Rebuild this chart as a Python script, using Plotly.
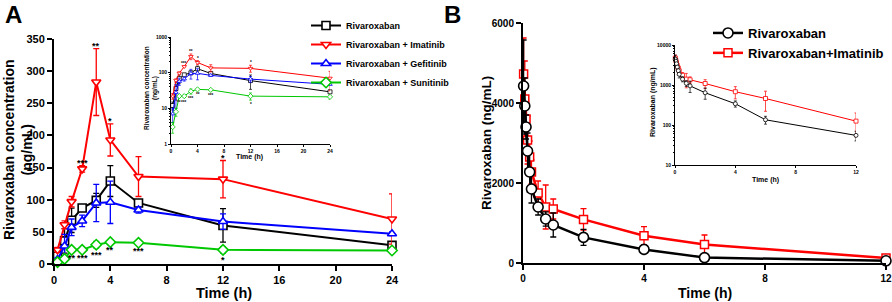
import math
import plotly.graph_objects as go

W, H = 892, 302
FONT = "Liberation Sans, Arial, sans-serif"


def px(x):
    return x / W


def py(y):
    return 1 - y / H


# ---------------- Panel A data ----------------
a_time = [0.25, 0.75, 1.25, 2, 3, 4, 6, 12, 24]
a_riva = [12, 36, 68, 87, 99, 129, 95, 60, 29]
a_riva_sd = [3, 19, 19, 4, 11, 24, 5, 26, 3]
a_imat = [22, 61, 97, 148, 283, 193, 136, 132, 70]
a_imat_sd = [4, 6, 8, 5, 52, 25, 31, 29, 39]
a_gefi = [7, 28, 57, 67, 95, 96, 84, 66, 47]
a_gefi_sd = [3, 18, 13, 9, 29, 33, 5, 12, 3]
a_suni = [3, 8, 22, 22, 30, 34, 33, 22, 21]
a_suni_sd = [1, 2, 2, 2, 5, 2, 2, 5, 3]

a_names = ["Rivaroxaban", "Rivaroxaban + Imatinib", "Rivaroxaban + Gefitinib", "Rivaroxaban + Sunitinib"]
a_colors = ["#000000", "#ff0000", "#0000ff", "#00c800"]
a_symbols = ["square", "triangle-down", "triangle-up", "diamond"]

imat_star_time = [2, 3, 4, 12]
imat_star_text = ["***", "**", "*", "*"]
suni_star_time = [1.25, 2, 3, 4, 6, 12]
suni_star_text = ["**", "***", "***", "**", "***", "*"]

a_xticks = [0, 4, 8, 12, 16, 20, 24]
a_yticks = [0, 50, 100, 150, 200, 250, 300, 350]
a_inset_yticks = [1, 10, 100, 1000]
a_inset_ylabels = ["1", "10", "100", "1000"]

# ---------------- Panel B data ----------------
b_time = [0.02, 0.06, 0.1, 0.15, 0.22, 0.28, 0.5, 0.75, 1, 2, 4, 6, 12]
b_riva = [4425, 3925, 3400, 2800, 2275, 1850, 1400, 1100, 950, 640, 340, 135, 55]
b_riva_sd = [1150, 700, 300, 450, 500, 350, 200, 180, 300, 200, 60, 30, 15]
b_imat = [4725, 4100, 3600, 3075, 2650, 2275, 1750, 1400, 1350, 1090, 680, 460, 125]
b_imat_sd = [900, 950, 500, 600, 400, 300, 300, 550, 250, 270, 230, 240, 75]
b_names = ["Rivaroxaban", "Rivaroxaban+Imatinib"]
b_xticks = [0, 4, 8, 12]
b_yticks = [0, 2000, 4000, 6000]
b_inset_yticks = [10, 100, 1000, 10000]
b_inset_ylabels = ["10", "100", "1000", "10000"]

a_series = [(a_riva, a_riva_sd), (a_imat, a_imat_sd), (a_gefi, a_gefi_sd), (a_suni, a_suni_sd)]

fig = go.Figure()

# Panel A main + inset
for i, (vals, sd) in enumerate(a_series):
    c = a_colors[i]
    fig.add_trace(go.Scatter(
        x=a_time, y=vals, mode="lines+markers", name=a_names[i],
        line=dict(color=c, width=2),
        marker=dict(symbol=a_symbols[i], size=8, color="white", line=dict(width=1.6, color=c)),
        error_y=dict(type="data", array=sd, color=c, thickness=1.3, width=3),
        xaxis="x", yaxis="y", legend="legend", cliponaxis=False,
        legendrank=i + 1,
    ))
    fig.add_trace(go.Scatter(
        x=a_time, y=vals, mode="lines+markers", showlegend=False,
        line=dict(color=c, width=1),
        marker=dict(symbol=a_symbols[i], size=4, color="white", line=dict(width=0.8, color=c)),
        error_y=dict(type="data", array=sd, color=c, thickness=0.7, width=1.5),
        xaxis="x2", yaxis="y2", cliponaxis=False,
    ))

# Panel B main + inset (Imatinib first so black is drawn on top)
fig.add_trace(go.Scatter(
    x=b_time, y=b_imat, mode="lines+markers", name=b_names[1],
    line=dict(color="#ff0000", width=2.5),
    marker=dict(symbol="square", size=8, color="white", line=dict(width=1.5, color="#ff0000")),
    error_y=dict(type="data", array=b_imat_sd, color="#ff0000", thickness=1.3, width=3),
    xaxis="x3", yaxis="y3", legend="legend2", cliponaxis=False, legendrank=2,
))
fig.add_trace(go.Scatter(
    x=b_time, y=b_riva, mode="lines+markers", name=b_names[0],
    line=dict(color="#000000", width=2.5),
    marker=dict(symbol="circle", size=10, color="white", line=dict(width=1.6, color="#000000")),
    error_y=dict(type="data", array=b_riva_sd, color="#000000", thickness=1.3, width=3),
    xaxis="x3", yaxis="y3", legend="legend2", cliponaxis=False, legendrank=1,
))
fig.add_trace(go.Scatter(
    x=b_time, y=b_imat, mode="lines+markers", showlegend=False,
    line=dict(color="#ff0000", width=1),
    marker=dict(symbol="square", size=4, color="white", line=dict(width=0.8, color="#ff0000")),
    error_y=dict(type="data", array=b_imat_sd, color="#ff0000", thickness=0.7, width=1.5),
    xaxis="x4", yaxis="y4", cliponaxis=False,
))
fig.add_trace(go.Scatter(
    x=b_time, y=b_riva, mode="lines+markers", showlegend=False,
    line=dict(color="#000000", width=1),
    marker=dict(symbol="circle", size=4, color="white", line=dict(width=0.8, color="#000000")),
    error_y=dict(type="data", array=b_riva_sd, color="#000000", thickness=0.7, width=1.5),
    xaxis="x4", yaxis="y4", cliponaxis=False,
))


def main_axis(**kw):
    d = dict(showline=True, linewidth=2, linecolor="black", ticks="outside", ticklen=5,
             tickwidth=2, tickcolor="black", showgrid=False, zeroline=False, automargin=False,
             tickfont=dict(size=11, family=FONT, weight="bold", color="black"))
    d.update(kw)
    return d


def inset_axis(**kw):
    d = dict(showline=True, linewidth=1, linecolor="black", ticks="outside", ticklen=2,
             tickwidth=1, tickcolor="black", showgrid=False, zeroline=False, automargin=False,
             tickfont=dict(size=5, family=FONT, weight="bold", color="black"))
    d.update(kw)
    return d


fig.update_layout(
    width=W, height=H, margin=dict(l=0, r=0, t=0, b=0, autoexpand=False),
    paper_bgcolor="white", plot_bgcolor="rgba(0,0,0,0)",
    font=dict(family=FONT, color="black"),
    xaxis=main_axis(domain=[px(54), px(392)], range=[0, 24], tickvals=a_xticks, anchor="y"),
    yaxis=main_axis(domain=[py(264), py(39)], range=[0, 350], tickvals=a_yticks, anchor="x"),
    xaxis2=inset_axis(domain=[px(171), px(330)], range=[0, 24], tickvals=a_xticks, anchor="y2"),
    yaxis2=inset_axis(domain=[py(144), py(37)], type="log", range=[0, 3], tickvals=a_inset_yticks,
                      ticktext=a_inset_ylabels, anchor="x2",
                      minor=dict(ticks="outside", ticklen=1.5, tickcolor="black", dtick="D1")),
    xaxis3=main_axis(domain=[px(523), px(886)], range=[0, 12], tickvals=b_xticks, anchor="y3",
                     tickfont=dict(size=10, family=FONT, weight="bold", color="black")),
    yaxis3=main_axis(domain=[py(263), py(23)], range=[0, 6000], tickvals=b_yticks, anchor="x3",
                     tickfont=dict(size=10, family=FONT, weight="bold", color="black")),
    xaxis4=inset_axis(domain=[px(675), px(856)], range=[0, 12], tickvals=b_xticks, anchor="y4"),
    yaxis4=inset_axis(domain=[py(165), py(45)], type="log", range=[1, 4], tickvals=b_inset_yticks,
                      ticktext=b_inset_ylabels, anchor="x4",
                      minor=dict(ticks="outside", ticklen=1.5, tickcolor="black", dtick="D1")),
    legend=dict(x=px(306), y=py(11), xanchor="left", yanchor="top", bgcolor="rgba(0,0,0,0)",
                font=dict(size=9, family=FONT, weight="bold", color="black")),
    legend2=dict(x=px(708), y=py(18), xanchor="left", yanchor="top", bgcolor="rgba(0,0,0,0)",
                 font=dict(size=13, family=FONT, weight="bold", color="black")),
)

ann = []


def text_ann(txt, x, y, size, angle=0):
    ann.append(dict(text=txt, x=px(x), y=py(y), xref="paper", yref="paper", showarrow=False,
                    xanchor="center", yanchor="middle", textangle=angle,
                    font=dict(size=size, family=FONT, weight="bold", color="black")))


text_ann("A", 13, 14, 24)
text_ann("B", 452, 14, 24)
text_ann("Rivaroxaban concentration<br>(ng/mL)", 18, 150, 14, -90)
text_ann("Time (h)", 224, 293, 14.5)
text_ann("Rivaroxaban concentration<br>(ng/mL)", 151, 88, 6.5, -90)
text_ann("Time (h)", 250, 157, 7)
text_ann("Rivaroxaban (ng/mL)", 486, 143, 13.5, -90)
text_ann("Time (h)", 705, 293, 14)
text_ann("Rivaroxaban (ng/mL)", 653, 102, 7, -90)
text_ann("Time (h)", 765, 180, 7)

# significance stars
for t, s in zip(imat_star_time, imat_star_text):
    i = a_time.index(t)
    ann.append(dict(text=s, x=t, y=a_imat[i] + a_imat_sd[i], xref="x", yref="y", showarrow=False,
                    xanchor="center", yanchor="bottom", yshift=-4,
                    font=dict(size=9, family=FONT, weight="bold", color="black")))
    ann.append(dict(text=s, x=t, y=math.log10(a_imat[i] + a_imat_sd[i]), xref="x2", yref="y2",
                    showarrow=False, xanchor="center", yanchor="bottom", yshift=-2,
                    font=dict(size=4.5, family=FONT, weight="bold", color="black")))
for t, s in zip(suni_star_time, suni_star_text):
    i = a_time.index(t)
    ann.append(dict(text=s, x=t, y=a_suni[i] - a_suni_sd[i], xref="x", yref="y", showarrow=False,
                    xanchor="center", yanchor="top", yshift=0,
                    font=dict(size=9, family=FONT, weight="bold", color="black")))
    ann.append(dict(text=s, x=t, y=math.log10(a_suni[i] - a_suni_sd[i]), xref="x2", yref="y2",
                    showarrow=False, xanchor="center", yanchor="top", yshift=0,
                    font=dict(size=4.5, family=FONT, weight="bold", color="black")))

fig.update_layout(annotations=ann)
fig.write_html("out.html", config={"displayModeBar": False},
               post_script="document.body.style.margin='0px';document.body.style.overflow='hidden';")
